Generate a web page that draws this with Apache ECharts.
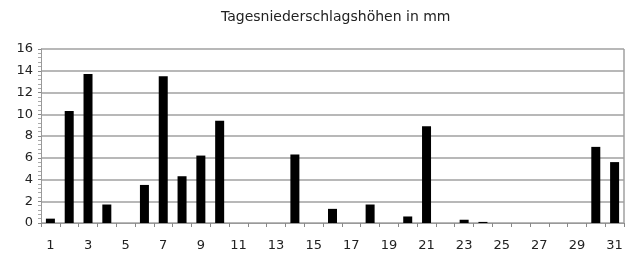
<!DOCTYPE html>
<html><head><meta charset="utf-8">
<script src="https://cdn.jsdelivr.net/npm/echarts@6/dist/echarts.min.js"></script>
<style>html,body{margin:0;padding:0;background:#fff}#c{width:637px;height:256px}</style>
</head><body><div id="c"></div>
<script>
var days = ['1','2','3','4','5','6','7','8','9','10','11','12','13','14','15','16','17','18','19','20','21','22','23','24','25','26','27','28','29','30','31'];
var precipitation = [0.4,10.3,13.7,1.7,0,3.5,13.5,4.3,6.2,9.4,0,0,0,6.3,0,1.3,0,1.7,0,0.6,8.9,0,0.3,0.1,0,0,0,0,0,7.0,5.6];
var titleText = 'Tagesniederschlagshöhen in mm';

var chart = echarts.init(document.getElementById('c'));
chart.setOption({
  animation: false,
  title: {text: titleText, left: 216, top: 5,
    textStyle: {fontFamily: 'DejaVu Sans', fontSize: 14, fontWeight: 'normal', color: '#222'}},
  grid: {left: 41, right: 13, top: 49, bottom: 33},
  xAxis: {
    type: 'category', data: days, boundaryGap: true,
    axisLine: {lineStyle: {color: '#999', width: 1}},
    axisTick: {show: true, interval: 0, length: 4, lineStyle: {color: '#888'}},
    axisLabel: {interval: 1, color: '#222', fontFamily: 'DejaVu Sans', fontSize: 13, margin: 16}
  },
  yAxis: {
    type: 'value', min: 0, max: 16, interval: 2,
    axisLine: {show: true, lineStyle: {color: '#999'}},
    axisTick: {show: true, length: 3, lineStyle: {color: '#888'}},
    minorTick: {show: true, splitNumber: 5, length: 3, lineStyle: {color: '#aaa'}},
    splitLine: {show: true, lineStyle: {color: '#a0a0a0', width: 1.5}},
    axisLabel: {color: '#222', fontFamily: 'DejaVu Sans', fontSize: 13, margin: 8}
  },
  graphic: [{type: 'line', shape: {x1: 624, y1: 49, x2: 624, y2: 223}, style: {stroke: '#a0a0a0', lineWidth: 1.5}}],
  series: [{type: 'bar', data: precipitation, barWidth: 9, itemStyle: {color: '#000'}}]
});
</script></body></html>
